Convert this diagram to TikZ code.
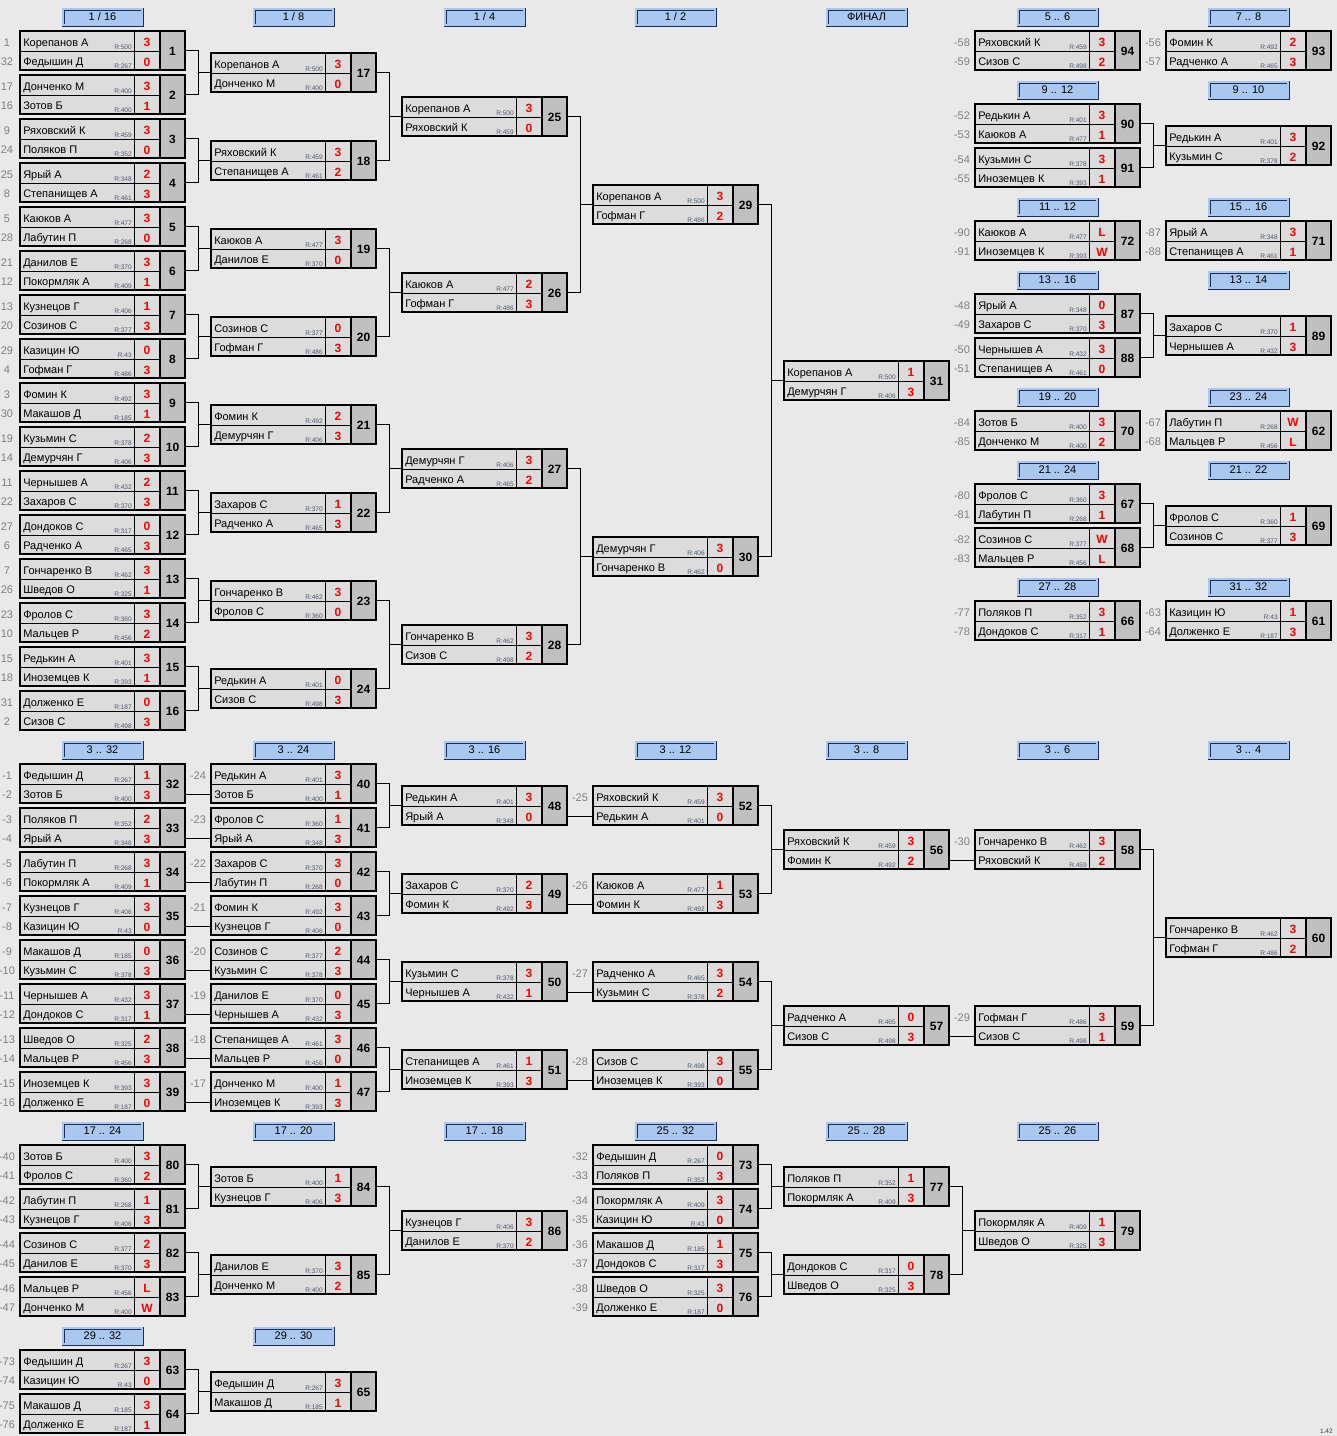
\documentclass[tikz,border=0pt]{standalone}
\usepackage{fontspec}
\setmainfont{Liberation Sans}
\newlength{\pu}\setlength{\pu}{0.75pt}
\definecolor{bgc}{HTML}{E9E9E9}
\definecolor{namef}{HTML}{DCDCDC}
\definecolor{numf}{HTML}{C0C0C0}
\definecolor{hdf}{HTML}{A8C8F0}
\definecolor{hdl}{HTML}{1C2C5C}
\definecolor{rc}{HTML}{505870}
\definecolor{seedc}{HTML}{808080}
\definecolor{scc}{HTML}{FF0000}
\tikzset{
 nm/.style={anchor=base west, inner sep=0, font=\fontsize{8.25}{9}\selectfont},
 rl/.style={anchor=base east, inner sep=0, text=rc, font=\fontsize{4.9}{5}\selectfont},
 sc/.style={anchor=base, inner sep=0, text=scc, font=\fontsize{9}{10}\selectfont\bfseries},
 numtxt/.style={anchor=base, inner sep=0, font=\fontsize{9}{10}\selectfont\bfseries},
 seedtxt/.style={anchor=base, inner sep=0, text=seedc, font=\fontsize{8.25}{9}\selectfont},
 matchbox/.style={draw, line width=2\pu, minimum width=165\pu, minimum height=39\pu, inner sep=0},
 hdbox/.style={draw=hdl, double=hdf, double distance=1.2\pu, line width=0.9\pu, fill=hdf,
   minimum width=79\pu, minimum height=16\pu, inner sep=0, text height=5.9pt, text depth=0pt,
   font=\fontsize{8.25}{9}\selectfont},
 link/.style={line width=1\pu}
}
\newcommand\mt[9]{%
 \def\cL{#1}\def\cT{#2}\def\cN{#3}%
 \fill[namef] (#1,#2) rectangle ++(140,39);
 \fill[numf] (#1+140,#2) rectangle ++(25,39);
 \draw[line width=1\pu] (#1,#2+20) -- ++(140,0);
 \draw[line width=1\pu] (#1+114,#2) -- ++(0,39);
 \draw[line width=2\pu] (#1+140,#2) -- ++(0,39);
 \node[matchbox] (m#3) at (#1+82.5,#2+19.5) {};
 \coordinate (m#3low) at (#1,#2+30);
 \node[nm] (m#3p) at (#1+3,#2+15) {#4};
 \node[rl] (m#3pr) at (#1+112,#2+18.5) {R:#5};
 \node[sc] (m#3ps) at (#1+127,#2+15.5) {#6};
 \node[nm] (m#3q) at (#1+3,#2+34.5) {#7};
 \node[rl] (m#3qr) at (#1+112,#2+37.5) {R:#8};
 \node[sc] (m#3qs) at (#1+127,#2+35) {#9};
 \node[numtxt] (m#3n) at (#1+152.5,#2+24.5) {#3};
}
\newcommand\sd[2]{%
 \node[seedtxt] (m\cN sa) at (\cL-13,\cT+15) {#1};
 \node[seedtxt] (m\cN sb) at (\cL-13,\cT+34.5) {#2};
}
\newcommand\hd[4]{\node[hdbox] (#1) at (#2+82.5,#3+9) {#4};}
\newcommand\br[3]{%
 \draw[link] (m#1.east) -- ++(12,0) |- (m#3.west);
 \draw[link] (m#2.east) -- ++(12,0) |- (m#3.west);
}
\newcommand\dl[2]{\draw[link] (m#1.east |- m#2low) -- (m#2low);}
\begin{document}
\begin{tikzpicture}[x=0.75pt,y=-0.75pt]
\fill[bgc] (0,0) rectangle (1337,1436);
\useasboundingbox (0,0) rectangle (1337,1436);
% headers
\hd{h1}{20}{8}{1 / 16}
\hd{h2}{211}{8}{1 / 8}
\hd{h3}{402}{8}{1 / 4}
\hd{h4}{593}{8}{1 / 2}
\hd{h5}{784}{8}{ФИНАЛ}
\hd{h6}{975}{8}{5 .. 6}
\hd{h7}{1166}{8}{7 .. 8}
\hd{h8}{975}{81}{9 .. 12}
\hd{h9}{1166}{81}{9 .. 10}
\hd{h10}{975}{198}{11 .. 12}
\hd{h11}{1166}{198}{15 .. 16}
\hd{h12}{975}{271}{13 .. 16}
\hd{h13}{1166}{271}{13 .. 14}
\hd{h14}{975}{388}{19 .. 20}
\hd{h15}{1166}{388}{23 .. 24}
\hd{h16}{975}{461}{21 .. 24}
\hd{h17}{1166}{461}{21 .. 22}
\hd{h18}{975}{578}{27 .. 28}
\hd{h19}{1166}{578}{31 .. 32}
\hd{h20}{20}{741}{3 .. 32}
\hd{h21}{211}{741}{3 .. 24}
\hd{h22}{402}{741}{3 .. 16}
\hd{h23}{593}{741}{3 .. 12}
\hd{h24}{784}{741}{3 .. 8}
\hd{h25}{975}{741}{3 .. 6}
\hd{h26}{1166}{741}{3 .. 4}
\hd{h27}{20}{1122}{17 .. 24}
\hd{h28}{211}{1122}{17 .. 20}
\hd{h29}{402}{1122}{17 .. 18}
\hd{h30}{593}{1122}{25 .. 32}
\hd{h31}{784}{1122}{25 .. 28}
\hd{h32}{975}{1122}{25 .. 26}
\hd{h33}{20}{1327}{29 .. 32}
\hd{h34}{211}{1327}{29 .. 30}
% upper bracket round 1
\mt{20}{31}{1}{Корепанов А}{500}{3}{Федышин Д}{267}{0}\sd{1}{32}
\mt{20}{75}{2}{Донченко М}{400}{3}{Зотов Б}{400}{1}\sd{17}{16}
\mt{20}{119}{3}{Ряховский К}{459}{3}{Поляков П}{352}{0}\sd{9}{24}
\mt{20}{163}{4}{Ярый А}{348}{2}{Степанищев А}{461}{3}\sd{25}{8}
\mt{20}{207}{5}{Каюков А}{477}{3}{Лабутин П}{268}{0}\sd{5}{28}
\mt{20}{251}{6}{Данилов Е}{370}{3}{Покормляк А}{409}{1}\sd{21}{12}
\mt{20}{295}{7}{Кузнецов Г}{406}{1}{Созинов С}{377}{3}\sd{13}{20}
\mt{20}{339}{8}{Казицин Ю}{43}{0}{Гофман Г}{486}{3}\sd{29}{4}
\mt{20}{383}{9}{Фомин К}{492}{3}{Макашов Д}{185}{1}\sd{3}{30}
\mt{20}{427}{10}{Кузьмин С}{378}{2}{Демурчян Г}{406}{3}\sd{19}{14}
\mt{20}{471}{11}{Чернышев А}{432}{2}{Захаров С}{370}{3}\sd{11}{22}
\mt{20}{515}{12}{Дондоков С}{317}{0}{Радченко А}{465}{3}\sd{27}{6}
\mt{20}{559}{13}{Гончаренко В}{462}{3}{Шведов О}{325}{1}\sd{7}{26}
\mt{20}{603}{14}{Фролов С}{360}{3}{Мальцев Р}{456}{2}\sd{23}{10}
\mt{20}{647}{15}{Редькин А}{401}{3}{Иноземцев К}{393}{1}\sd{15}{18}
\mt{20}{691}{16}{Долженко Е}{187}{0}{Сизов С}{498}{3}\sd{31}{2}
% round 2
\mt{211}{53}{17}{Корепанов А}{500}{3}{Донченко М}{400}{0}
\mt{211}{141}{18}{Ряховский К}{459}{3}{Степанищев А}{461}{2}
\mt{211}{229}{19}{Каюков А}{477}{3}{Данилов Е}{370}{0}
\mt{211}{317}{20}{Созинов С}{377}{0}{Гофман Г}{486}{3}
\mt{211}{405}{21}{Фомин К}{492}{2}{Демурчян Г}{406}{3}
\mt{211}{493}{22}{Захаров С}{370}{1}{Радченко А}{465}{3}
\mt{211}{581}{23}{Гончаренко В}{462}{3}{Фролов С}{360}{0}
\mt{211}{669}{24}{Редькин А}{401}{0}{Сизов С}{498}{3}
% round 3
\mt{402}{97}{25}{Корепанов А}{500}{3}{Ряховский К}{459}{0}
\mt{402}{273}{26}{Каюков А}{477}{2}{Гофман Г}{486}{3}
\mt{402}{449}{27}{Демурчян Г}{406}{3}{Радченко А}{465}{2}
\mt{402}{625}{28}{Гончаренко В}{462}{3}{Сизов С}{498}{2}
% semi, final
\mt{593}{185}{29}{Корепанов А}{500}{3}{Гофман Г}{486}{2}
\mt{593}{537}{30}{Демурчян Г}{406}{3}{Гончаренко В}{462}{0}
\mt{784}{361}{31}{Корепанов А}{500}{1}{Демурчян Г}{406}{3}
% right block
\mt{975}{31}{94}{Ряховский К}{459}{3}{Сизов С}{498}{2}\sd{-58}{-59}
\mt{1166}{31}{93}{Фомин К}{492}{2}{Радченко А}{465}{3}\sd{-56}{-57}
\mt{975}{104}{90}{Редькин А}{401}{3}{Каюков А}{477}{1}\sd{-52}{-53}
\mt{975}{148}{91}{Кузьмин С}{378}{3}{Иноземцев К}{393}{1}\sd{-54}{-55}
\mt{1166}{126}{92}{Редькин А}{401}{3}{Кузьмин С}{378}{2}
\mt{975}{221}{72}{Каюков А}{477}{L}{Иноземцев К}{393}{W}\sd{-90}{-91}
\mt{1166}{221}{71}{Ярый А}{348}{3}{Степанищев А}{461}{1}\sd{-87}{-88}
\mt{975}{294}{87}{Ярый А}{348}{0}{Захаров С}{370}{3}\sd{-48}{-49}
\mt{975}{338}{88}{Чернышев А}{432}{3}{Степанищев А}{461}{0}\sd{-50}{-51}
\mt{1166}{316}{89}{Захаров С}{370}{1}{Чернышев А}{432}{3}
\mt{975}{411}{70}{Зотов Б}{400}{3}{Донченко М}{400}{2}\sd{-84}{-85}
\mt{1166}{411}{62}{Лабутин П}{268}{W}{Мальцев Р}{456}{L}\sd{-67}{-68}
\mt{975}{484}{67}{Фролов С}{360}{3}{Лабутин П}{268}{1}\sd{-80}{-81}
\mt{975}{528}{68}{Созинов С}{377}{W}{Мальцев Р}{456}{L}\sd{-82}{-83}
\mt{1166}{506}{69}{Фролов С}{360}{1}{Созинов С}{377}{3}
\mt{975}{601}{66}{Поляков П}{352}{3}{Дондоков С}{317}{1}\sd{-77}{-78}
\mt{1166}{601}{61}{Казицин Ю}{43}{1}{Долженко Е}{187}{3}\sd{-63}{-64}
% lower bracket col 1
\mt{20}{764}{32}{Федышин Д}{267}{1}{Зотов Б}{400}{3}\sd{-1}{-2}
\mt{20}{808}{33}{Поляков П}{352}{2}{Ярый А}{348}{3}\sd{-3}{-4}
\mt{20}{852}{34}{Лабутин П}{268}{3}{Покормляк А}{409}{1}\sd{-5}{-6}
\mt{20}{896}{35}{Кузнецов Г}{406}{3}{Казицин Ю}{43}{0}\sd{-7}{-8}
\mt{20}{940}{36}{Макашов Д}{185}{0}{Кузьмин С}{378}{3}\sd{-9}{-10}
\mt{20}{984}{37}{Чернышев А}{432}{3}{Дондоков С}{317}{1}\sd{-11}{-12}
\mt{20}{1028}{38}{Шведов О}{325}{2}{Мальцев Р}{456}{3}\sd{-13}{-14}
\mt{20}{1072}{39}{Иноземцев К}{393}{3}{Долженко Е}{187}{0}\sd{-15}{-16}
% col 2
\mt{211}{764}{40}{Редькин А}{401}{3}{Зотов Б}{400}{1}\sd{-24}{}
\mt{211}{808}{41}{Фролов С}{360}{1}{Ярый А}{348}{3}\sd{-23}{}
\mt{211}{852}{42}{Захаров С}{370}{3}{Лабутин П}{268}{0}\sd{-22}{}
\mt{211}{896}{43}{Фомин К}{492}{3}{Кузнецов Г}{406}{0}\sd{-21}{}
\mt{211}{940}{44}{Созинов С}{377}{2}{Кузьмин С}{378}{3}\sd{-20}{}
\mt{211}{984}{45}{Данилов Е}{370}{0}{Чернышев А}{432}{3}\sd{-19}{}
\mt{211}{1028}{46}{Степанищев А}{461}{3}{Мальцев Р}{456}{0}\sd{-18}{}
\mt{211}{1072}{47}{Донченко М}{400}{1}{Иноземцев К}{393}{3}\sd{-17}{}
% col 3
\mt{402}{786}{48}{Редькин А}{401}{3}{Ярый А}{348}{0}
\mt{402}{874}{49}{Захаров С}{370}{2}{Фомин К}{492}{3}
\mt{402}{962}{50}{Кузьмин С}{378}{3}{Чернышев А}{432}{1}
\mt{402}{1050}{51}{Степанищев А}{461}{1}{Иноземцев К}{393}{3}
% col 4
\mt{593}{786}{52}{Ряховский К}{459}{3}{Редькин А}{401}{0}\sd{-25}{}
\mt{593}{874}{53}{Каюков А}{477}{1}{Фомин К}{492}{3}\sd{-26}{}
\mt{593}{962}{54}{Радченко А}{465}{3}{Кузьмин С}{378}{2}\sd{-27}{}
\mt{593}{1050}{55}{Сизов С}{498}{3}{Иноземцев К}{393}{0}\sd{-28}{}
% col 5-7
\mt{784}{830}{56}{Ряховский К}{459}{3}{Фомин К}{492}{2}
\mt{784}{1006}{57}{Радченко А}{465}{0}{Сизов С}{498}{3}
\mt{975}{830}{58}{Гончаренко В}{462}{3}{Ряховский К}{459}{2}\sd{-30}{}
\mt{975}{1006}{59}{Гофман Г}{486}{3}{Сизов С}{498}{1}\sd{-29}{}
\mt{1166}{918}{60}{Гончаренко В}{462}{3}{Гофман Г}{486}{2}
% 17..24
\mt{20}{1145}{80}{Зотов Б}{400}{3}{Фролов С}{360}{2}\sd{-40}{-41}
\mt{20}{1189}{81}{Лабутин П}{268}{1}{Кузнецов Г}{406}{3}\sd{-42}{-43}
\mt{20}{1233}{82}{Созинов С}{377}{2}{Данилов Е}{370}{3}\sd{-44}{-45}
\mt{20}{1277}{83}{Мальцев Р}{456}{L}{Донченко М}{400}{W}\sd{-46}{-47}
\mt{211}{1167}{84}{Зотов Б}{400}{1}{Кузнецов Г}{406}{3}
\mt{211}{1255}{85}{Данилов Е}{370}{3}{Донченко М}{400}{2}
\mt{402}{1211}{86}{Кузнецов Г}{406}{3}{Данилов Е}{370}{2}
% 25..32
\mt{593}{1145}{73}{Федышин Д}{267}{0}{Поляков П}{352}{3}\sd{-32}{-33}
\mt{593}{1189}{74}{Покормляк А}{409}{3}{Казицин Ю}{43}{0}\sd{-34}{-35}
\mt{593}{1233}{75}{Макашов Д}{185}{1}{Дондоков С}{317}{3}\sd{-36}{-37}
\mt{593}{1277}{76}{Шведов О}{325}{3}{Долженко Е}{187}{0}\sd{-38}{-39}
\mt{784}{1167}{77}{Поляков П}{352}{1}{Покормляк А}{409}{3}
\mt{784}{1255}{78}{Дондоков С}{317}{0}{Шведов О}{325}{3}
\mt{975}{1211}{79}{Покормляк А}{409}{1}{Шведов О}{325}{3}
% 29..32
\mt{20}{1350}{63}{Федышин Д}{267}{3}{Казицин Ю}{43}{0}\sd{-73}{-74}
\mt{20}{1394}{64}{Макашов Д}{185}{3}{Долженко Е}{187}{1}\sd{-75}{-76}
\mt{211}{1372}{65}{Федышин Д}{267}{3}{Макашов Д}{185}{1}
% connectors
\br{1}{2}{17}\br{3}{4}{18}\br{5}{6}{19}\br{7}{8}{20}
\br{9}{10}{21}\br{11}{12}{22}\br{13}{14}{23}\br{15}{16}{24}
\br{17}{18}{25}\br{19}{20}{26}\br{21}{22}{27}\br{23}{24}{28}
\br{25}{26}{29}\br{27}{28}{30}\br{29}{30}{31}
\br{90}{91}{92}\br{87}{88}{89}\br{67}{68}{69}
\dl{32}{40}\dl{33}{41}\dl{34}{42}\dl{35}{43}\dl{36}{44}\dl{37}{45}\dl{38}{46}\dl{39}{47}
\br{40}{41}{48}\br{42}{43}{49}\br{44}{45}{50}\br{46}{47}{51}
\dl{48}{52}\dl{49}{53}\dl{50}{54}\dl{51}{55}
\br{52}{53}{56}\br{54}{55}{57}
\dl{56}{58}\dl{57}{59}
\br{58}{59}{60}
\br{80}{81}{84}\br{82}{83}{85}\br{84}{85}{86}
\br{73}{74}{77}\br{75}{76}{78}\br{77}{78}{79}
\br{63}{64}{65}
\node[anchor=base east, inner sep=0, font=\fontsize{4.9}{5}\selectfont, text=black!75] (ver) at (1333,1433) {1.42};
\end{tikzpicture}
\end{document}
